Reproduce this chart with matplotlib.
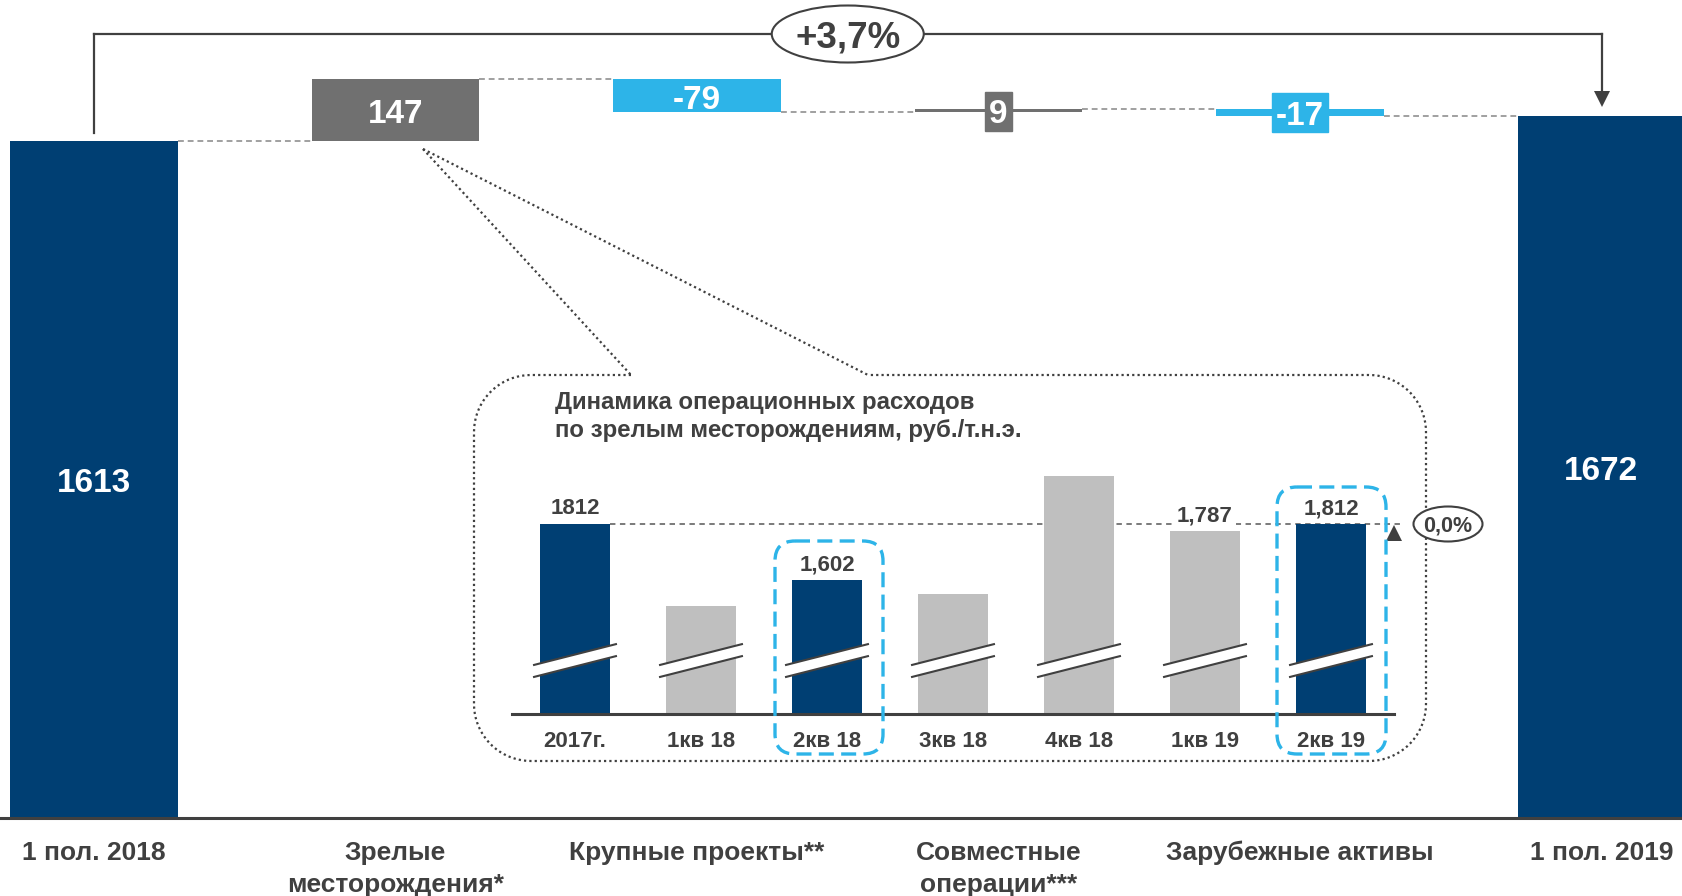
import numpy as np
import matplotlib
matplotlib.use("Agg")
import matplotlib.pyplot as plt
import matplotlib.transforms as mtransforms
from matplotlib.patches import Ellipse, FancyBboxPatch, Rectangle, Polygon, PathPatch
from matplotlib.path import Path

# ---------------- data ----------------
main_categories = ["1 пол. 2018", "Зрелые\nместорождения*", "Крупные проекты**",
                   "Совместные\nоперации***", "Зарубежные активы", "1 пол. 2019"]
start_value = 1613
deltas = [147, -79, 9, -17]
end_value = 1672
total_change_label = "+3,7%"

inset_categories = ["2017г.", "1кв 18", "2кв 18", "3кв 18", "4кв 18", "1кв 19", "2кв 19"]
inset_values = [1812, 1505, 1602, 1550, 1992, 1787, 1812]
inset_labels = ["1812", "", "1,602", "", "", "1,787", "1,812"]
inset_highlight = [True, False, True, False, False, False, True]
inset_change_label = "0,0%"
inset_title = ["Динамика операционных расходов", "по зрелым месторождениям, руб./т.н.э."]

# ---------------- style ----------------
NAVY = "#003F73"
GREY_BAR = "#707070"
BLUE = "#2DB4E8"
LIGHT_GREY = "#BFBFBF"
TXT = "#404040"

plt.rcParams["font.family"] = ["Liberation Sans", "DejaVu Sans"]
plt.rcParams["font.weight"] = "bold"

W, H = 1683, 896
fig = plt.figure(figsize=(W / 100, H / 100), dpi=100)
px = mtransforms.Affine2D().scale(1 / W, -1 / H).translate(0, 1) + fig.transFigure

# ---------------- main waterfall ----------------
ax = fig.add_axes([0, 0, 1, 1])
x_step, y_scale, x0_px, base_px = 301.5, 0.4197, 94, 818
ax.set_xlim(-x0_px / x_step, (W - x0_px) / x_step)
ax.set_ylim(-(H - base_px) / y_scale, base_px / y_scale)
ax.axis("off")
bw = 0.557
DOWN = -3  # points, optical centring of big labels


def big_label(x, y, s, **kw):
    ax.annotate(s, (x, y), xytext=(0, DOWN), textcoords="offset points",
                ha="center", va="center", **kw)


ax.bar(0, start_value, width=bw, color=NAVY, zorder=2)
big_label(0, start_value / 2, f"{start_value}", color="white", fontsize=24, zorder=3)
levels = [start_value]
running = start_value
for i, d in enumerate(deltas, start=1):
    bottom = running if d > 0 else running + d
    col = GREY_BAR if d > 0 else BLUE
    ax.bar(i, abs(d), bottom=bottom, width=bw, color=col, zorder=2)
    lab = f"{d}"
    cy = bottom + abs(d) / 2
    if abs(d) < 40:
        # small bar: label in a coloured box
        dx, dy = ax.transData.transform((i, cy))
        bwpx = 27 if len(lab) == 1 else 56
        ax.add_patch(Rectangle((dx - bwpx / 2, H - dy - 19), bwpx, 39, color=col,
                               transform=px, zorder=3))
    big_label(i, cy, lab, color="white", fontsize=24, zorder=4)
    running += d
    levels.append(running)
n = len(main_categories)
ax.bar(n - 1, end_value, width=bw, color=NAVY, zorder=2)
big_label(n - 1, end_value / 2, f"{end_value}", color="white", fontsize=24, zorder=3)

for i, lv in enumerate(levels):
    ax.plot([i + bw / 2, i + 1 - bw / 2], [lv, lv], color="#A0A0A0", lw=1.4,
            ls=(0, (3, 2)), zorder=1)

ax.axhline(0, color=TXT, lw=2.2, zorder=3)

# bracket with total change
y_br = (base_px - 34) / y_scale
ax.plot([0, 0], [start_value + 19, y_br], color=TXT, lw=1.6, zorder=2)
ax.plot([0, n - 1], [y_br, y_br], color=TXT, lw=1.6, zorder=2)
ax.plot([n - 1, n - 1], [y_br, (base_px - 93) / y_scale], color=TXT, lw=1.6, zorder=2)
ax.plot(n - 1, (base_px - 99.5) / y_scale, marker="v", ms=11, color=TXT, mew=0, zorder=3)
ax.add_patch(Ellipse(((n - 1) / 2, y_br), 152 / x_step, 57 / y_scale, fc="white",
                     ec=TXT, lw=1.5, zorder=5))
big_label((n - 1) / 2, y_br, total_change_label, color=TXT, fontsize=26.5, zorder=6)

# category labels
lab_tr = mtransforms.blended_transform_factory(ax.transData, px)
for i, c in enumerate(main_categories):
    for j, line in enumerate(c.split("\n")):
        ax.text(i, 853 + 32 * j, line, transform=lab_tr, color=TXT, fontsize=19,
                ha="center", va="center")

# ---------------- inset frame and callout ----------------
r = 57
L, T, R, B = 474, 375, 1426, 761
gap_l, gap_r = 631, 868


def arc(cx, cy, a0, a1, npts=20):
    t = np.radians(np.linspace(a0, a1, npts))
    return np.column_stack([cx + r * np.cos(t), cy + r * np.sin(t)])


pts = [np.array([[gap_l, T], [L + r, T]]),
       arc(L + r, T + r, 270, 180),
       np.array([[L, B - r]]),
       arc(L + r, B - r, 180, 90),
       np.array([[R - r, B]]),
       arc(R - r, B - r, 90, 0),
       np.array([[R, T + r]]),
       arc(R - r, T + r, 0, -90),
       np.array([[gap_r, T]])]
verts = np.vstack(pts)
frame = PathPatch(Path(verts), fill=False, ec=TXT, lw=1.6, ls=(0, (1, 1.4)),
                  transform=px, zorder=1)
fig.add_artist(frame)
for xe in (gap_l, gap_r):
    fig.add_artist(plt.Line2D([423, xe], [149, T], color=TXT, lw=1.6,
                              ls=(0, (1, 1.4)), transform=px))

fig.text(555, 402, inset_title[0], transform=px, color=TXT, fontsize=17.3,
         ha="left", va="center")
fig.text(555, 430, inset_title[1], transform=px, color=TXT, fontsize=17.3,
         ha="left", va="center")

# ---------------- inset bar chart ----------------
ib, it, il, ir = 714, 440, 512, 1394
ax2 = fig.add_axes([il / W, (H - ib) / H, (ir - il) / W, (ib - it) / H])
ax2.patch.set_alpha(0)
ybot = 1100
iscale = 0.26667
ax2.set_xlim(-0.5, len(inset_values) - 0.5)
ax2.set_ylim(ybot, ybot + (ib - it) / iscale)
for s in ("top", "left", "right"):
    ax2.spines[s].set_visible(False)
ax2.spines["bottom"].set_color(TXT)
ax2.spines["bottom"].set_linewidth(2.2)
ax2.spines["bottom"].set_zorder(5)
ax2.set_yticks([])
ax2.set_xticks(range(len(inset_categories)), inset_categories)
ax2.tick_params(axis="x", length=0, pad=12.5, labelsize=16, labelcolor=TXT)

ibw = 0.556
xs = np.arange(len(inset_values))
ax2.bar(xs, inset_values, width=ibw,
        color=[NAVY if h else LIGHT_GREY for h in inset_highlight], zorder=2)

# axis-break marks
for xi in xs:
    a, b = xi - 0.325, xi + 0.325
    ax2.add_patch(Polygon([[a, 1284], [b, 1362], [b, 1317], [a, 1239]],
                          closed=True, fc="white", ec="none", zorder=3))
    ax2.plot([a, b], [1284, 1362], color=TXT, lw=1.5, zorder=4)
    ax2.plot([a, b], [1239, 1317], color=TXT, lw=1.5, zorder=4)

# reference line at 2017 level
ax2.plot([ibw / 2, 6.55], [inset_values[0], inset_values[0]], color="#707070",
         lw=1.3, ls=(0, (3, 2.5)), zorder=1, clip_on=False)
ax2.plot(6.5, inset_values[0] - 9 / iscale, marker="^", ms=11, color=TXT, mew=0,
         clip_on=False, zorder=5)

for xi, v, lab in zip(xs, inset_values, inset_labels):
    if lab:
        ax2.annotate(lab, (xi, v), xytext=(0, 11), textcoords="offset points",
                     ha="center", va="center", fontsize=16, color=TXT, zorder=6,
                     bbox=dict(boxstyle="square,pad=0.12", fc="white", ec="none"))

# highlight boxes (dashed, light blue)
for (x0b, y0b, x1b, y1b) in [(775, 541, 883, 754), (1277, 487, 1386, 754)]:
    fig.add_artist(FancyBboxPatch((x0b, y0b), x1b - x0b, y1b - y0b,
                                  boxstyle="round,pad=0,rounding_size=20",
                                  fill=False, ec=BLUE, lw=2.4, ls=(0, (4.5, 2.2)),
                                  transform=px, zorder=6))

fig.add_artist(Ellipse((1448, 524), 69, 35, fc="white", ec=TXT, lw=1.5,
                       transform=px, zorder=6))
fig.text(1448, 526, inset_change_label, transform=px, color=TXT, fontsize=15.5,
         ha="center", va="center", zorder=7)

fig.savefig("out.png", dpi=100)
